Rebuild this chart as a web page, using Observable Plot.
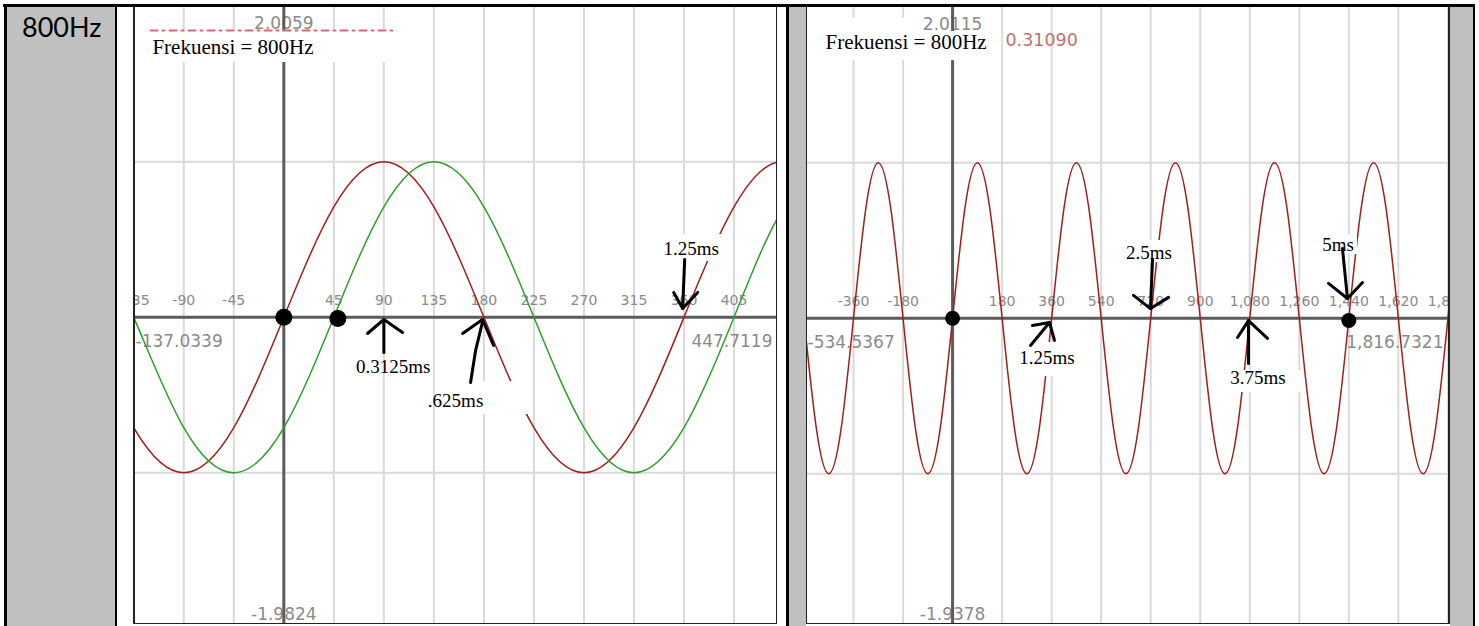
<!DOCTYPE html>
<html><head><meta charset="utf-8">
<script src="https://cdn.jsdelivr.net/npm/d3@7"></script>
<script src="https://cdn.jsdelivr.net/npm/@observablehq/plot@0.6"></script>
<style>
html,body{margin:0;padding:0;background:#fff;width:1479px;height:626px;overflow:hidden;}
body{position:relative;}
.b{position:absolute;}
.clip{position:absolute;overflow:hidden;background:#fff;}
.clip svg{position:absolute;overflow:hidden;max-width:none !important;}
</style></head><body>
<div class="b" style="left:3px;top:4px;width:1472px;height:3px;background:#000"></div>
<div class="b" style="left:4px;top:4px;width:3px;height:622px;background:#000"></div>
<div class="b" style="left:7px;top:7px;width:108px;height:619px;background:#c0c0c0"></div>
<div class="b" style="left:115px;top:4px;width:2px;height:622px;background:#000"></div>
<div class="b" style="left:786px;top:4px;width:3px;height:622px;background:#000"></div>
<div class="b" style="left:789px;top:7px;width:17px;height:619px;background:#c0c0c0"></div>
<div class="b" style="left:1450px;top:7px;width:23px;height:619px;background:#c0c0c0"></div>
<div class="b" style="left:1473px;top:4px;width:2px;height:622px;background:#000"></div>
<svg class="b" style="left:0;top:0" width="115" height="60"><text x="22" y="37" font-family="Lato" font-size="27" fill="#000">800Hz</text></svg>

<div class="clip" id="p1" style="left:135px;top:7px;width:641px;height:616px"></div>
<div class="b" style="left:133px;top:7px;width:2px;height:617px;background:#222"></div>
<div class="b" style="left:776px;top:7px;width:1px;height:617px;background:#222"></div>
<div class="b" style="left:133px;top:623px;width:644px;height:1px;background:#222"></div>

<div class="clip" id="p2" style="left:807px;top:7px;width:641px;height:616px"></div>
<div class="b" style="left:806px;top:7px;width:1px;height:617px;background:#222"></div>
<div class="b" style="left:1448px;top:7px;width:2px;height:617px;background:#222"></div>
<div class="b" style="left:806px;top:623px;width:644px;height:1px;background:#222"></div>

<script>
// ---------- Panel 1 data ----------
const p1XDomain = [-137.0339, 447.7119];
const p1YDomain = [-1.9824, 2.0059];
const p1GridX = [-135,-90,-45,0,45,90,135,180,225,270,315,360,405];
const p1TickValues = [-135,-90,-45,45,90,135,180,225,270,315,360,405];
const gridY = [-1, 1];
const p1CurveX = [-180,-135,-90,-45,0,45,90,135,180,225,270,315,360,405,450,495];
const p1RedY   = [0,-0.71,-1,-0.71,0,0.71,1,0.71,0,-0.71,-1,-0.71,0,0.71,1,0.71];
const p1GreenY = [0.71,0,-0.71,-1,-0.71,0,0.71,1,0.71,0,-0.71,-1,-0.71,0,0.71,1];
const p1Title = "Frekuensi = 800Hz";
const p1TitleX = -118.2, p1TitleY = 1.74;
const p1LegendX = [-119.9, 97.5], p1LegendY = 1.845;
const p1Notes = ["0.3125ms", ".625ms", "1.25ms"];
const p1NoteX = [98.3, 154.5, 366.5];
const p1NoteY = [-0.322, -0.535, 0.443];
const p1Boxes = [[-130.5,114.3,1.639,1.838],[141,223.8,-0.625,-0.413],[337,396.6,0.359,0.533]];
const p1Arrows = [
  [[90,-0.226],[90,-0.021]],
  [[75.3,-0.104],[90,-0.014],[106.8,-0.098]],
  [[168,-0.419],[172.5,-0.214],[178.8,-0.027]],
  [[160.8,-0.104],[169.8,-0.059],[178.8,-0.014],[188.7,-0.181]],
  [[360.6,0.372],[358.8,0.057]],
  [[350.7,0.16],[358.8,0.057],[372.3,0.16]]
];
const p1DotX = [0, 48.6], p1DotY = [0, -0.008];

// ---------- Panel 2 data ----------
const p2XDomain = [-534.5367, 1816.7321];
const p2YDomain = [-1.9378, 2.0115];
const p2GridX = [-540,-360,-180,0,180,360,540,720,900,1080,1260,1440,1620,1800];
const p2TickValues = [-360,-180,180,360,540,720,900,1080,1260,1440,1620,1800];
const p2CurveX = [-540,-495,-450,-405,-360,-315,-270,-225,-180,-135,-90,-45,0,45,90,135,180,225,270,315,360,405,450,495,540,585,630,675,720,765,810,855,900,945,990,1035,1080,1125,1170,1215,1260,1305,1350,1395,1440,1485,1530,1575,1620,1665,1710,1755,1800,1845,1890];
const p2RedY = [0,-0.71,-1,-0.71,0,0.71,1,0.71, 0,-0.71,-1,-0.71,0,0.71,1,0.71, 0,-0.71,-1,-0.71,0,0.71,1,0.71, 0,-0.71,-1,-0.71,0,0.71,1,0.71, 0,-0.71,-1,-0.71,0,0.71,1,0.71, 0,-0.71,-1,-0.71,0,0.71,1,0.71, 0,-0.71,-1,-0.71,0,0.71,1];
const p2Title = "Frekuensi = 800Hz";
const p2TitleX = -461.9, p2TitleY = 1.778;
const p2Value = "0.31090";
const p2ValueX = 192.2, p2ValueY = 1.79;
const p2Notes = ["1.25ms", "2.5ms", "3.75ms", "5ms"];
const p2NoteX = [343, 713.7, 1109.9, 1400.6];
const p2NoteY = [-0.252, 0.423, -0.381, 0.471];
const p2Boxes = [[-497.8,156,1.657,1.844],[-497.8,-145,1.75,1.93],[235.9,453.9,-0.375,-0.156],[617.7,813.7,0.358,0.5],[1049.6,1278.6,-0.477,-0.336],[1329.7,1471.5,0.409,0.537]];
const p2Arrows = [
  [[283.1,-0.175],[352.1,-0.027]],
  [[290.4,-0.047],[352.1,-0.027],[370.2,-0.143]],
  [[726.5,0.378],[719.2,0.062]],
  [[657.4,0.147],[719.2,0.062],[784.8,0.134]],
  [[1075.3,-0.291],[1075.3,-0.015]],
  [[1035.4,-0.124],[1075.3,-0.015],[1144.4,-0.130]],
  [[1416.9,0.448],[1435.1,0.127]],
  [[1366.1,0.224],[1435.1,0.127],[1489.6,0.230]]
];
const p2DotX = [0, 1440], p2DotY = [0, -0.015];

// ---------- styles ----------
const RED = "#a31d1d", GREEN = "#2f9e2f", GRID = "#dadada", AXIS = "#5c5c5c", LABEL = "#8a8a8a";
const SANS = "DejaVu Sans", SERIF = "Liberation Serif";
const loc = d3.formatLocale({decimal: ".", thousands: ",", grouping: [3], currency: ["", ""], minus: "-"});
const fmtInt = loc.format(","), fmtBig = loc.format(",.4f"), fmtY = loc.format(".4f");

function pts(xs, ys) { return xs.map((x, i) => ({x, y: ys[i]})); }
function arrowRows(arrows) { return arrows.flatMap((a, k) => a.map(([x, y]) => ({id: k, x, y}))); }
function boxRows(boxes) { return boxes.map(([x1, x2, y1, y2]) => ({x1, x2, y1, y2})); }

function panel(o) {
  const marks = [
    Plot.ruleX(o.gridX, {stroke: GRID, strokeWidth: 2}),
    Plot.ruleY(gridY, {stroke: GRID, strokeWidth: 2}),
    Plot.text(o.ticks, {x: d => d, y: () => 0, text: d => fmtInt(d), dy: -17, fill: LABEL, fontSize: 14, fontFamily: SANS}),
    Plot.text([o.xd[0]], {x: d => d, y: () => 0, text: d => fmtBig(d), textAnchor: "start", dx: o.minDx, dy: 24, fill: LABEL, fontSize: 17, fontFamily: SANS}),
    Plot.text([o.xd[1]], {x: d => d, y: () => 0, text: d => fmtBig(d), textAnchor: "end", dx: -9, dy: 24, fill: LABEL, fontSize: 17, fontFamily: SANS}),
    Plot.text([o.yd[1]], {x: () => 0, y: d => d, text: d => fmtY(d), dy: o.topDy, fill: LABEL, fontSize: 17, fontFamily: SANS}),
    Plot.text([o.yd[0]], {x: () => 0, y: d => d, text: d => fmtY(d), dy: o.botDy, fill: LABEL, fontSize: 17, fontFamily: SANS}),
    Plot.ruleX([0], {stroke: AXIS, strokeWidth: 3}),
    Plot.ruleY([0], {stroke: AXIS, strokeWidth: 3}),
    ...o.curves.map(c => Plot.line(pts(o.curveX, c.y), {x: "x", y: "y", stroke: c.color, strokeWidth: 1.5, curve: "natural"})),
    Plot.rect(boxRows(o.boxes), {x1: "x1", x2: "x2", y1: "y1", y2: "y2", fill: "white"}),
    ...o.extra,
    Plot.text([o.title], {x: () => o.titleX, y: () => o.titleY, text: d => d, textAnchor: "start", fontSize: 21, fontFamily: SERIF, fill: "#000"}),
    Plot.text(o.notes, {x: (d, i) => o.noteX[i], y: (d, i) => o.noteY[i], text: d => d, fontSize: 19, fontFamily: SERIF, fill: "#000"}),
    Plot.line(arrowRows(o.arrows), {x: "x", y: "y", z: "id", stroke: "#000", strokeWidth: 3, strokeLinecap: "round", strokeLinejoin: "round"}),
    Plot.dot(pts(o.dotX, o.dotY), {x: "x", y: "y", r: o.r, fill: "#000"})
  ];
  const svg = Plot.plot({
    width: o.w, height: 621, margin: 0,
    style: {background: "transparent", overflow: "hidden"},
    x: {domain: o.xd, range: [0, o.w], axis: null},
    y: {domain: o.yd, range: [o.yBottom, 0], axis: null},
    marks
  });
  svg.style.maxWidth = "none";
  svg.style.width = o.w + "px";
  svg.style.height = "621px";
  return svg;
}

const svg1 = panel({
  w: 650, xd: p1XDomain, yd: p1YDomain, yBottom: 620, gridX: p1GridX, ticks: p1TickValues,
  minDx: 4, topDy: 18, botDy: -11,
  curveX: p1CurveX, curves: [{y: p1RedY, color: RED}, {y: p1GreenY, color: GREEN}],
  boxes: p1Boxes,
  extra: [Plot.line(pts(p1LegendX, [p1LegendY, p1LegendY]), {x: "x", y: "y", stroke: "#d66a6a", strokeWidth: 2, strokeDasharray: "7,5,2,5"})],
  title: p1Title, titleX: p1TitleX, titleY: p1TitleY,
  notes: p1Notes, noteX: p1NoteX, noteY: p1NoteY, arrows: p1Arrows,
  dotX: p1DotX, dotY: p1DotY, r: 8.5
});
svg1.style.left = "-4px"; svg1.style.top = "-2px";
document.getElementById("p1").appendChild(svg1);

const svg2 = panel({
  w: 647, xd: p2XDomain, yd: p2YDomain, yBottom: 614, gridX: p2GridX, ticks: p2TickValues,
  minDx: 2, topDy: 19, botDy: -5,
  curveX: p2CurveX, curves: [{y: p2RedY, color: RED}],
  boxes: p2Boxes,
  extra: [Plot.text([p2Value], {x: () => p2ValueX, y: () => p2ValueY, text: d => d, textAnchor: "start", fontSize: 17.5, fontFamily: SANS, fill: "#c47070"})],
  title: p2Title, titleX: p2TitleX, titleY: p2TitleY,
  notes: p2Notes, noteX: p2NoteX, noteY: p2NoteY, arrows: p2Arrows,
  dotX: p2DotX, dotY: p2DotY, r: 7.5
});
svg2.style.left = "-2px"; svg2.style.top = "-2px";
document.getElementById("p2").appendChild(svg2);
</script>
</body></html>
